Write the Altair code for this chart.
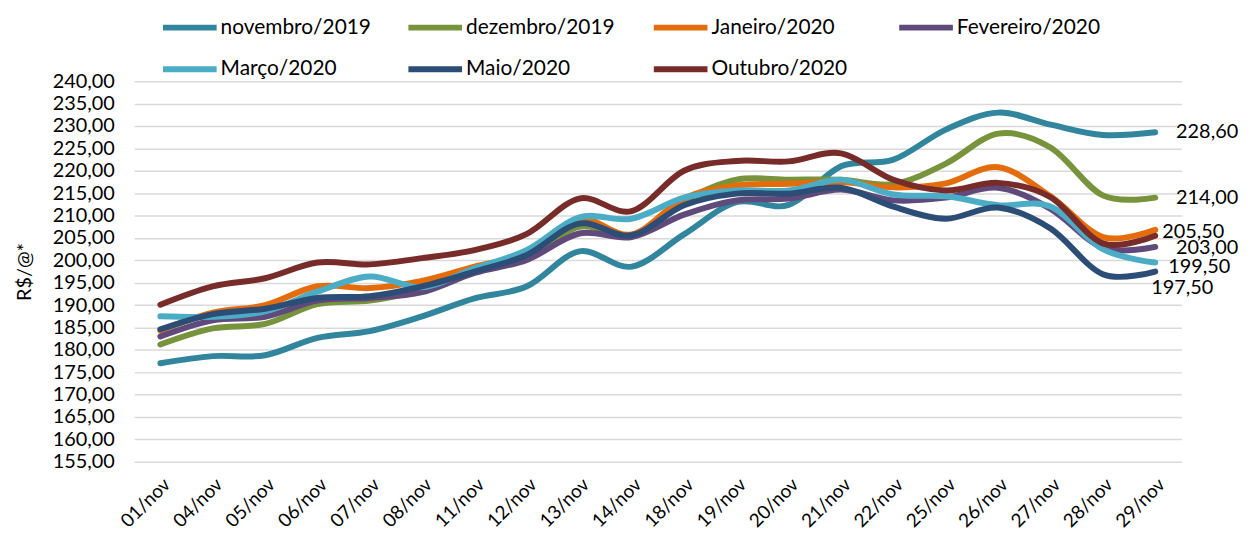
import altair as alt
import pandas as pd

dates = ["01/nov", "04/nov", "05/nov", "06/nov", "07/nov", "08/nov", "11/nov", "12/nov",
         "13/nov", "14/nov", "18/nov", "19/nov", "20/nov", "21/nov", "22/nov", "25/nov",
         "26/nov", "27/nov", "28/nov", "29/nov"]

series_names = ["novembro/2019", "dezembro/2019", "Janeiro/2020", "Fevereiro/2020",
                "Março/2020", "Maio/2020", "Outubro/2020"]
colors = ["#31859C", "#77933C", "#E46C0A", "#604A7B", "#4BACC6", "#2C4D75", "#772C2A"]

nov2019 = [177.0, 178.6, 178.8, 182.7, 184.2, 187.5, 191.5, 194.2, 202.0, 198.6,
           205.8, 213.0, 212.4, 221.0, 222.5, 229.2, 233.0, 230.3, 228.0, 228.6]
dez2019 = [181.2, 184.8, 185.8, 190.2, 191.0, 193.4, 197.5, 200.5, 207.5, 205.5,
           213.3, 218.0, 218.0, 218.0, 217.0, 221.6, 228.3, 225.2, 214.5, 214.0]
jan2020 = [184.3, 188.3, 190.0, 194.2, 193.8, 195.4, 198.6, 201.6, 209.2, 205.8,
           213.8, 216.7, 217.1, 217.5, 216.3, 217.2, 220.8, 214.3, 205.2, 206.8]
fev2020 = [183.0, 186.6, 187.4, 191.0, 191.6, 192.9, 197.2, 200.1, 206.0, 205.2,
           210.2, 213.4, 213.8, 215.8, 213.4, 214.0, 216.2, 211.5, 202.8, 203.0]
mar2020 = [187.5, 187.4, 188.6, 193.0, 196.4, 194.0, 198.2, 202.3, 209.6, 209.3,
           214.0, 215.6, 215.6, 218.0, 214.7, 214.3, 212.3, 212.0, 202.5, 199.5]
mai2020 = [184.6, 188.0, 189.2, 191.6, 192.0, 194.2, 197.5, 201.2, 208.2, 205.6,
           212.3, 214.9, 214.9, 216.2, 212.0, 209.3, 211.8, 207.1, 196.9, 197.5]
out2020 = [190.1, 194.2, 196.0, 199.5, 199.1, 200.5, 202.3, 205.9, 213.8, 211.0,
           220.0, 222.2, 222.1, 223.9, 218.0, 215.6, 217.3, 214.1, 203.8, 205.5]

all_series = [nov2019, dez2019, jan2020, fev2020, mar2020, mai2020, out2020]

y_ticks = list(range(155, 245, 5))

# end labels: series and value shown
label_series = ["novembro/2019", "dezembro/2019", "Outubro/2020", "Fevereiro/2020",
                "Março/2020", "Maio/2020"]
label_values = [228.60, 214.00, 205.50, 203.00, 199.50, 197.50]
# label offsets (style): dx, dy in pixels
label_offsets = [(21, 0), (21, 0), (7, -4), (21, 1), (13, 4), (-4, 17)]

rows = []
for name, vals in zip(series_names, all_series):
    for d, v in zip(dates, vals):
        rows.append({"data": d, "serie": name, "valor": v})
df = pd.DataFrame(rows)

FONT = "Lato"

x_enc = alt.X("data:N", sort=dates,
              scale=alt.Scale(type="point", padding=0.5),
              axis=alt.Axis(title=None, labelAngle=-45, labelFontSize=19, labelPadding=13,
                            domain=False, ticks=False, grid=False, labelColor="#000000",
                            labelFont=FONT, labelOverlap=False))
y_enc = alt.Y("valor:Q",
              scale=alt.Scale(domain=[155, 240], nice=False, zero=False),
              axis=alt.Axis(title="R$/@*", values=y_ticks, tickCount=len(y_ticks) + 2,
                            labelExpr="replace(format(datum.value, '.2f'), '.', ',')",
                            labelFontSize=20, labelFont=FONT, labelColor="#000000",
                            labelPadding=20, domain=False, ticks=False, labelOverlap=False,
                            grid=True, gridColor="#D9D9D9", gridWidth=1.5,
                            titleFontSize=20, titleFont=FONT, titleFontWeight="normal",
                            titleColor="#000000", titlePadding=18))
color_enc = alt.Color("serie:N",
                      scale=alt.Scale(domain=series_names, range=colors),
                      legend=alt.Legend(title=None, orient="none", legendX=26, legendY=-84,
                                        direction="horizontal",
                                        columns=4, gridAlign="all", columnPadding=25,
                                        rowPadding=0, symbolType="stroke",
                                        symbolSize=2916, symbolStrokeWidth=6,
                                        labelFontSize=21, labelFont=FONT,
                                        labelColor="#000000", labelOffset=1,
                                        labelLimit=300))

lines = alt.Chart(df).mark_line(interpolate="cardinal", strokeWidth=6,
                                strokeCap="round", strokeJoin="round").encode(
    x=x_enc, y=y_enc, color=color_enc)

layers = [lines]
last_date = dates[-1]
for s, v, (dx, dy) in zip(label_series, label_values, label_offsets):
    ldf = pd.DataFrame([{"data": last_date, "valor": v,
                         "txt": f"{v:.2f}".replace(".", ",")}])
    layers.append(
        alt.Chart(ldf).mark_text(align="left", baseline="middle", dx=dx, dy=dy,
                                 fontSize=20, font=FONT, color="#000000").encode(
            x=alt.X("data:N", sort=dates), y=alt.Y("valor:Q"), text="txt:N")
    )

chart = alt.layer(*layers).properties(
    width=1054, height=383,
    padding={"left": 127, "top": 72, "right": 62, "bottom": 82},
    autosize=alt.AutoSizeParams(type="none"),
    background="white",
).configure_view(stroke=None)

chart.save("out.html", embed_options={"renderer": "svg", "actions": False})
